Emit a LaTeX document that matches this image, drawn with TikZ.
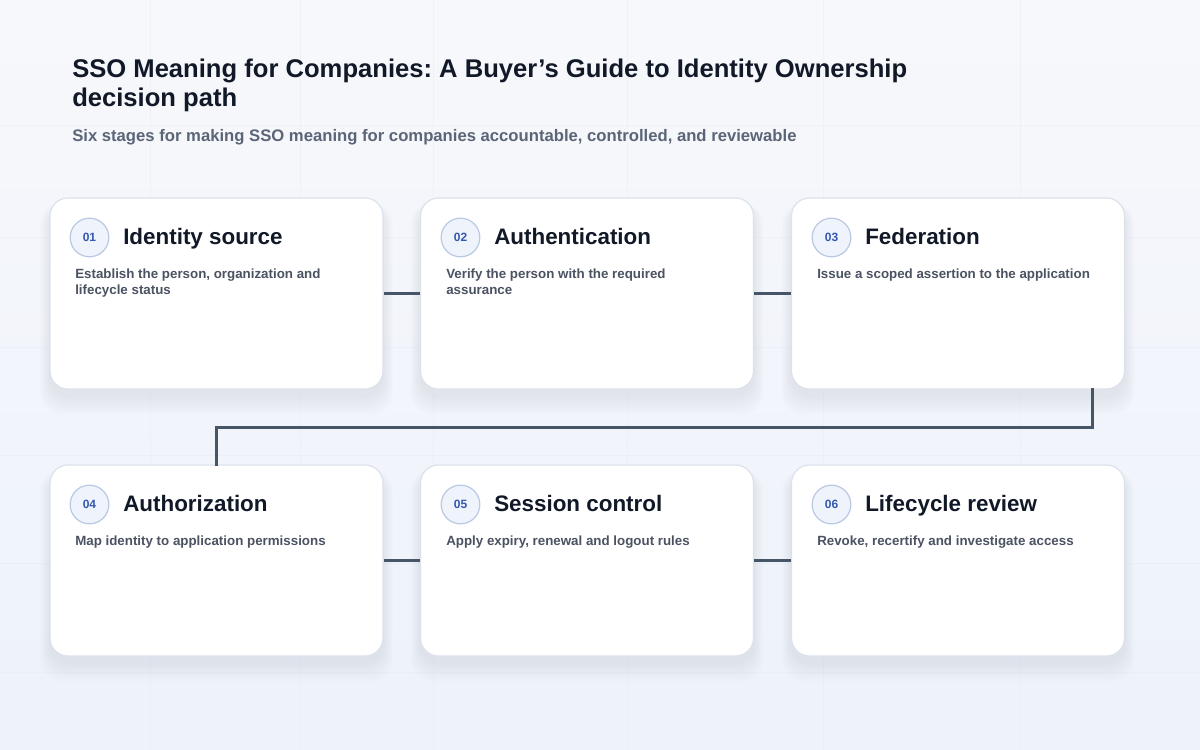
\documentclass[tikz,border=0pt]{standalone}
\usepackage{fontspec}
\setmainfont{Liberation Sans}
\usetikzlibrary{calc}
\frenchspacing
\definecolor{bgA}{HTML}{F7F8FB}
\definecolor{bgB}{HTML}{EDF2FB}
\definecolor{gridc}{HTML}{E3E8F0}
\definecolor{titlec}{HTML}{111827}
\definecolor{subc}{HTML}{5B6577}
\definecolor{descc}{HTML}{4B5262}
\definecolor{cardline}{HTML}{DCE2EC}
\definecolor{shadowc}{HTML}{8A9AB8}
\definecolor{numfill}{HTML}{EEF3FC}
\definecolor{numline}{HTML}{B9C8E3}
\definecolor{numtext}{HTML}{3458B0}
\definecolor{linkc}{HTML}{475569}
\tikzset{
  card/.style={draw=cardline, line width=0.9pt, fill=white, rounded corners=13.5pt,
    minimum width=249.75pt, minimum height=143.25pt, inner sep=0pt},
  numdot/.style={circle, draw=numline, line width=0.9pt, fill=numfill, minimum size=29pt,
    inner sep=0pt, text=numtext, font=\fontsize{9}{10}\selectfont\bfseries},
  cardtitle/.style={anchor=base west, inner sep=0pt, text=titlec, font=\fontsize{16.8}{19}\selectfont\bfseries},
  carddesc/.style={anchor=base west, inner sep=0pt, align=left, text=descc,
    font=\fontsize{10}{12}\selectfont\bfseries},
  link/.style={draw=linkc, line width=2.4pt},
}
\begin{document}
\frenchspacing
\begin{tikzpicture}[x=0.75pt,y=-0.75pt]
\useasboundingbox (0,0) rectangle (1200,750);
\shade[top color=bgA, bottom color=bgB] (0,0) rectangle (1200,750);
% faint grid
\foreach \gx in {150,300,433,627,823,1020}
  \draw[gridc, line width=0.5pt, opacity=0.35] (\gx,0) -- (\gx,750);
\foreach \gy in {125,237,347,455,563,672}
  \draw[gridc, line width=0.5pt, opacity=0.35] (0,\gy) -- (1200,\gy);
% title
\node[anchor=base west, inner sep=0pt, text=titlec, font=\fontsize{19.2}{22}\selectfont\bfseries] (t1) at (72,77) {SSO Meaning for Companies: A Buyer’s Guide to Identity Ownership};
\node[anchor=base west, inner sep=0pt, text=titlec, font=\fontsize{19.2}{22}\selectfont\bfseries] (t2) at (72,106) {decision path};
\node[anchor=base west, inner sep=0pt, text=subc, font=\fontsize{12.5}{14}\selectfont\bfseries] (st) at (72,141) {Six stages for making SSO meaning for companies accountable, controlled, and reviewable};
% shadows
\foreach \cx/\cy in {216.5/293.5,587/293.5,958/293.5,216.5/560.5,587/560.5,958/560.5}{
  \foreach \k in {1,...,8}{
    \fill[shadowc, opacity=0.018, rounded corners=16pt]
      ($(\cx,\cy)+(-166.5-\k*1.2,-95.5+8-\k*0.4)$) rectangle ($(\cx,\cy)+(166.5+\k*1.2,95.5+6+\k*2.4)$);
  }
}
% cards
\node[card] (c1) at (216.5,293.5) {};
\node[card] (c2) at (587,293.5) {};
\node[card] (c3) at (958,293.5) {};
\node[card] (c4) at (216.5,560.5) {};
\node[card] (c5) at (587,560.5) {};
\node[card] (c6) at (958,560.5) {};
% links
\draw[link] (c1.east) -- (c2.west);
\draw[link] (c2.east) -- (c3.west);
\draw[link] (c4.east) -- (c5.west);
\draw[link] (c5.east) -- (c6.west);
\coordinate (d3) at ([xshift=-24.75pt]c3.south east);
\draw[link, line cap=rect] (d3) -- ++(0,38) -| (c4.north);
% card contents
\foreach \i/\cx/\cy/\num/\ttl/\dsca/\dscb in {
  1/50/198/01/Identity source/{Establish the person, organization and}/{lifecycle status},
  2/421/198/02/Authentication/{Verify the person with the required}/{assurance},
  3/792/198/03/Federation/{Issue a scoped assertion to the application}/{},
  4/50/465/04/Authorization/{Map identity to application permissions}/{},
  5/421/465/05/Session control/{Apply expiry, renewal and logout rules}/{},
  6/792/465/06/Lifecycle review/{Revoke, recertify and investigate access}/{}}{
  \node[numdot] (n\i) at (\cx+39.5,\cy+39.5) {\num};
  \node[cardtitle] (h\i) at (\cx+73,\cy+46) {\ttl};
  \node[carddesc] (p\i) at (\cx+25,\cy+80) {\dsca};
  \node[carddesc] (q\i) at (\cx+25,\cy+96) {\dscb};
}
\end{tikzpicture}
\end{document}
